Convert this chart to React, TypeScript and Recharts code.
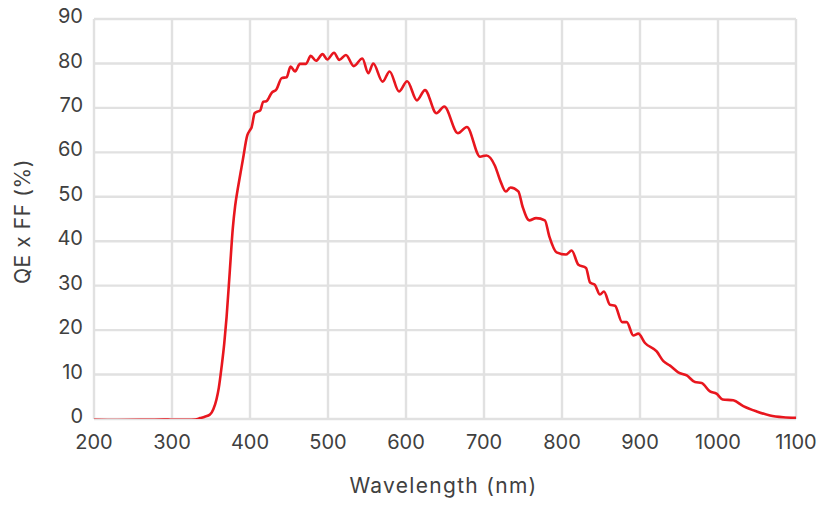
import React from "react";
import { LineChart, Line, XAxis, YAxis, CartesianGrid, Label } from "recharts";

// Wavelength (nm)
const wavelengths: number[] = [
  200, 230, 260, 290, 300, 320, 330, 336, 342, 348.7, 353, 357, 360, 363.7, 367, 370, 374, 378, 381, 385,
  388, 391, 396.5, 400, 402, 406, 410, 413, 417, 421, 427.8, 434, 440.6, 447, 452, 457.7, 464, 471.8, 477.8,
  484.6, 493, 499, 507.7, 514.5, 523, 533, 544, 551.7, 558, 570, 579, 591, 601.5, 614, 624.4, 639, 649,
  666.5, 678, 695, 703, 714, 720.5, 728, 734, 744, 749.6, 758, 766.7, 778, 783.7, 793, 805, 812.4, 821,
  830.8, 836, 842, 848.7, 853.8, 861.5, 868, 877, 883, 891.4, 897.8, 906.4, 921.4, 930, 938.5, 949, 960,
  970.5, 979, 989.7, 998, 1006, 1019.6, 1032.4, 1049.6, 1066.7, 1083.7, 1100,
];

// QE x FF (%)
const qeff: number[] = [
  -0.2, -0.25, -0.2, -0.1, -0.2, -0.2, -0.1, 0.2, 0.5, 1.0, 2.2, 4.4, 7, 11.9, 17, 23, 33, 43, 48, 52.5,
  55.5, 58.5, 63.8, 65, 65.6, 68.8, 69.2, 69.4, 71.4, 71.5, 73.4, 74.2, 76.7, 76.9, 79.3, 78.2, 79.9, 79.9, 81.7,
  80.6, 82.1, 80.9, 82.4, 80.8, 81.9, 79.4, 81.1, 77.8, 80, 75.9, 78.2, 73.7, 76, 71.7, 74, 68.8, 70.3,
  64.3, 65.7, 59, 59.3, 57, 53.8, 51.2, 52.1, 51.2, 47.7, 44.7, 45.2, 44.7, 41.1, 37.5, 37, 37.9, 34.7,
  34, 30.7, 30.2, 28, 28.7, 25.7, 25.5, 21.8, 21.8, 18.8, 19.2, 17.1, 15.2, 13, 12, 10.5, 9.8,
  8.3, 8.1, 6.2, 5.7, 4.4, 4.2, 2.9, 1.7, 0.8, 0.4, 0.25,
];

const xTicks: number[] = [200, 300, 400, 500, 600, 700, 800, 900, 1000, 1100];
const yTicks: number[] = [0, 10, 20, 30, 40, 50, 60, 70, 80, 90];

const xLabel = "Wavelength (nm)";
const yLabel = "QE x FF (%)";

const data = wavelengths.map((w, i) => ({ wl: w, qe: qeff[i] }));

const FONT = "Inter, 'Open Sans', sans-serif";
const TEXT = "#404040";

export default function App() {
  return (
    <div style={{ position: "absolute", left: 0, top: 0, width: 831, height: 509, background: "#fff" }}>
      <LineChart width={831} height={509} data={data} margin={{ top: 19, right: 35, bottom: 0, left: 0 }}>
        <CartesianGrid stroke="#e1e1e1" strokeWidth={2.4} />
        <XAxis
          dataKey="wl"
          type="number"
          domain={[200, 1100]}
          ticks={xTicks}
          allowDataOverflow
          axisLine={false}
          tickLine={false}
          tickSize={0}
          tickMargin={16}
          height={90}
          tick={{ fill: TEXT, fontSize: 20, fontFamily: FONT }}
        >
          <Label
            content={(props: any) => {
              const vb = props.viewBox || {};
              return (
                <text
                  x={vb.x + vb.width / 2 - 1.5}
                  y={vb.y + 74}
                  textAnchor="middle"
                  fill={TEXT}
                  fontSize={21}
                  fontFamily={FONT}
                  letterSpacing={1.3}
                >
                  {xLabel}
                </text>
              );
            }}
          />
        </XAxis>
        <YAxis
          type="number"
          domain={[0, 90]}
          ticks={yTicks}
          allowDataOverflow
          axisLine={false}
          tickLine={false}
          tickSize={0}
          tickMargin={11}
          width={94}
          tick={{ fill: TEXT, fontSize: 20, fontFamily: FONT, dy: -3 }}
        >
          <Label
            content={(props: any) => {
              const vb = props.viewBox || {};
              const cx = 30;
              const cy = vb.y + vb.height / 2 + 2.5;
              return (
                <text
                  x={cx}
                  y={cy}
                  transform={`rotate(-90 ${cx} ${cy})`}
                  textAnchor="middle"
                  fill={TEXT}
                  fontSize={21}
                  fontFamily={FONT}
                  letterSpacing={0.6}
                >
                  {yLabel}
                </text>
              );
            }}
          />
        </YAxis>
        <Line
          type="monotone"
          dataKey="qe"
          stroke="#e8161e"
          strokeWidth={2.6}
          dot={false}
          isAnimationActive={false}
        />
      </LineChart>
    </div>
  );
}
